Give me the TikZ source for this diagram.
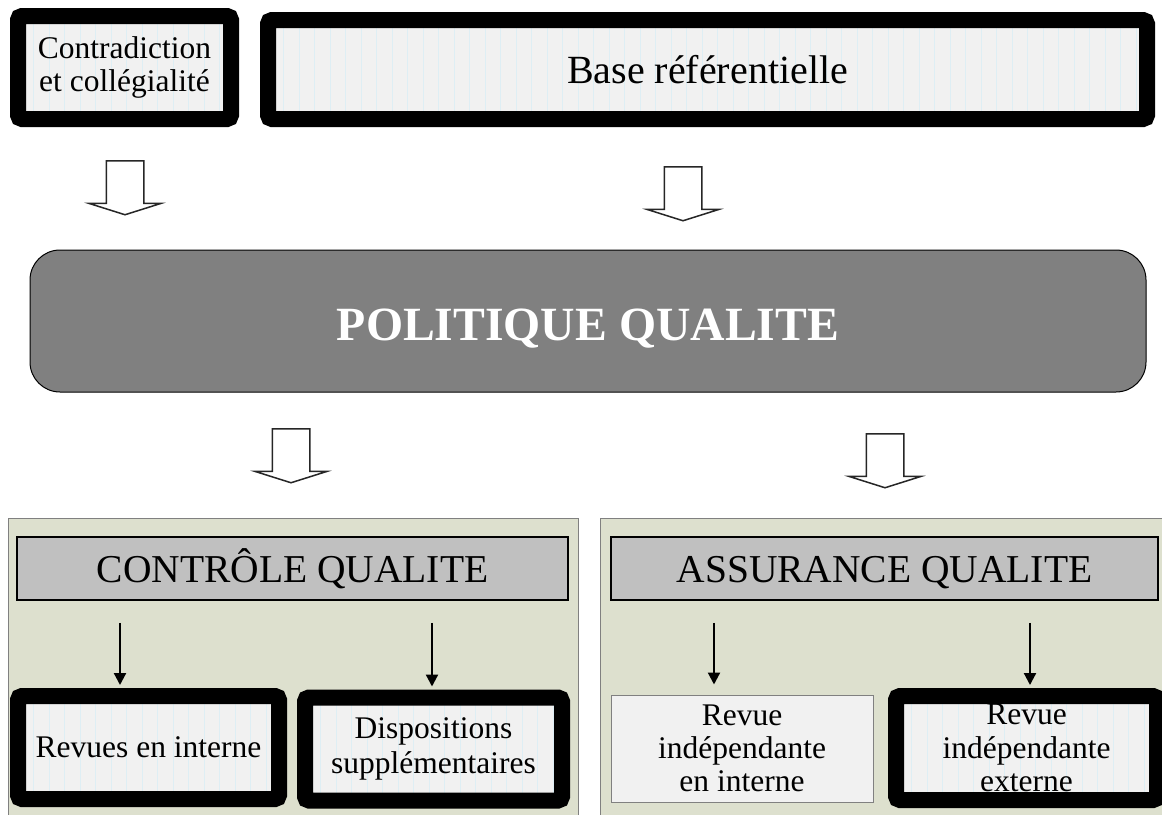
\documentclass[tikz,border=0pt]{standalone}
\usepackage{fontspec}
\setmainfont{Liberation Serif}
\usetikzlibrary{arrows.meta,shapes.arrows}
\definecolor{fond}{RGB}{221,224,206}
\definecolor{bleupale}{RGB}{222,238,244}
\definecolor{grisclair}{RGB}{241,241,241}
\definecolor{grismoyen}{RGB}{192,192,192}
\definecolor{grisfonce}{RGB}{128,128,128}

\begin{document}
\begin{tikzpicture}[x=1pt,y=-1pt,
  cadre/.style={draw=black,line width=16pt,rounded corners=4pt,fill=grisclair,
    inner sep=0pt,align=center,font=\fontsize{31.5}{33.5}\selectfont,
    path picture={\foreach \i in {1,...,60}
      \draw[bleupale,line width=0.7pt] ([xshift=\i*15.5pt]path picture bounding box.south west)
        -- ([xshift=\i*15.5pt]path picture bounding box.north west);}},
  simple/.style={draw=grisfonce,line width=1pt,fill=grisclair,inner sep=0pt,
    align=center,font=\fontsize{31.5}{33}\selectfont},
  titre/.style={draw=black,line width=1.5pt,fill=grismoyen,inner sep=0pt,
    text height=27pt,text depth=0pt,font=\fontsize{39.5}{42}\selectfont},
  panneau/.style={draw=grisfonce,line width=1pt,fill=fond,inner sep=0pt},
  creuse/.style={single arrow,draw=black!85,line width=1.5pt,fill=white,rotate=-90,
    minimum height=54pt,single arrow head extend=17pt,single arrow tip angle=145,
    inner xsep=0pt,inner ysep=18pt,minimum width=1pt,anchor=tail},
  fleche/.style={-{Triangle[length=12pt,width=12pt]},line width=2.2pt}]
  \useasboundingbox (0,0) rectangle (1162,814);

  % haut
  \node[cadre,minimum width=213,minimum height=103] (contra) at (124.5,67.5)
    {Contradiction\\et collégialité};
  \node[cadre,minimum width=879,minimum height=99,font=\fontsize{40}{42}\selectfont] (base) at (707.5,69.5)
    {Base référentielle};

  \node[creuse] (a1) at (125,160) {};
  \node[creuse] (a2) at (683,166) {};

  % politique
  \node[draw=black,line width=1pt,fill=grisfonce,rounded corners=30pt,
    minimum width=1116,minimum height=142,text=white,text height=38pt,text depth=0pt,
    font=\fontsize{47.7}{50}\selectfont\bfseries] (pol) at (588,321) {POLITIQUE QUALITE};

  \node[creuse] (a3) at (291,428) {};
  \node[creuse] (a4) at (885,433) {};

  % bas
  \node[panneau,minimum width=570,minimum height=310] (gauche) at (293,673) {};
  \node[panneau,minimum width=570,minimum height=310] (droite) at (885,673) {};

  \node[titre,minimum width=551,minimum height=63] (ctrl) at (292.5,568.5) {CONTRÔLE QUALITE};
  \node[titre,minimum width=547,minimum height=63] (assur) at (884.5,568.5) {ASSURANCE QUALITE};

  \node[cadre,minimum width=261,minimum height=103] (rint) at (148.5,747.5) {Revues en interne};
  \node[cadre,minimum width=257,minimum height=103,font=\fontsize{31.5}{35}\selectfont] (disp) at (433.5,749)
    {Dispositions\\supplémentaires};
  \node[simple,minimum width=262,minimum height=107] (rindint) at (742,748.5)
    {Revue\\indépendante\\en interne};
  \node[cadre,minimum width=261,minimum height=104] (rext) at (1026.5,748)
    {Revue\\indépendante\\externe};

  \draw[fleche,shorten <=22pt,shorten >=3pt] ([xshift=-28.5pt]rint.north |- ctrl.south) -- ([xshift=-28.5pt]rint.north);
  \draw[fleche,shorten <=22pt,shorten >=3pt] ([xshift=-1.5pt]disp.north |- ctrl.south) -- ([xshift=-1.5pt]disp.north);
  \draw[fleche,shorten <=22pt,shorten >=10pt] ([xshift=-28pt]rindint.north |- assur.south) -- ([xshift=-28pt]rindint.north);
  \draw[fleche,shorten <=22pt,shorten >=3pt] ([xshift=3.5pt]rext.north |- assur.south) -- ([xshift=3.5pt]rext.north);
\end{tikzpicture}
\end{document}
